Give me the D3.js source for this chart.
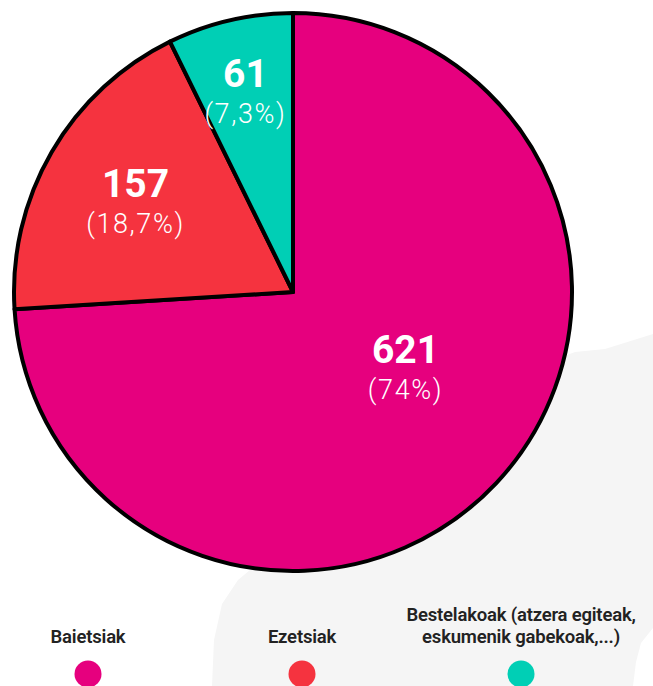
<!DOCTYPE html>
<html>
<head>
<meta charset="utf-8">
<script src="https://cdn.jsdelivr.net/npm/d3@7"></script>
<style>
  html, body { margin: 0; padding: 0; background: #fff; }
  svg { display: block; }
  text { font-family: Roboto, "Noto Sans", sans-serif; }
</style>
</head>
<body>
<div id="chart"></div>
<script>
// data
var LABELS = ["Baietsiak", "Ezetsiak", "Bestelakoak (atzera egiteak,|eskumenik gabekoak,...)"];
var VALUES = [621, 157, 61];
var PERCENTS = ["74%", "18,7%", "7,3%"];
var COLORS = ["#e6007e", "#f5333f", "#00cfb5"];

var width = 653,
    height = 686;

var cx = 293,
    cy = 292,
    radius = 279;

// label placement: radius and angle nudge (degrees) per slice
var labelR = [133, 184, 210],
    labelNudge = [-11, 1, 0];

var svg = d3.select("#chart").append("svg")
    .attr("width", width)
    .attr("height", height);

// light grey background shape
svg.append("path")
    .attr("d", "M212,686 L214,640 L222,604 L238,580 L262,560 L330,500 L450,420 L540,365 L575,352 L605,349 L653,334 L653,628 L641,643 L636,662 L633,686 Z")
    .style("fill", "#f5f5f5");

var pie = d3.pie().sort(null).value(function (d) { return d; });
var arcs = pie(VALUES);

var arc = d3.arc().innerRadius(0).outerRadius(radius);

var g = svg.append("g")
    .attr("transform", "translate(" + cx + "," + cy + ")");

g.selectAll("path.slice")
    .data(arcs)
    .enter().append("path")
    .attr("class", "slice")
    .attr("d", arc)
    .style("fill", function (d, i) { return COLORS[i]; })
    .style("stroke", "#000")
    .style("stroke-width", 4)
    .style("stroke-linejoin", "round");

var lab = g.selectAll("g.lab")
    .data(arcs)
    .enter().append("g")
    .attr("class", "lab")
    .attr("transform", function (d, i) {
        var a = (d.startAngle + d.endAngle) / 2 + labelNudge[i] * Math.PI / 180;
        return "translate(" + (labelR[i] * Math.sin(a)) + "," + (-labelR[i] * Math.cos(a)) + ")";
    });

lab.append("text")
    .attr("text-anchor", "middle")
    .style("fill", "#fff")
    .style("font-size", "39px")
    .style("font-weight", 700)
    .text(function (d) { return d.value; });

lab.append("text")
    .attr("text-anchor", "middle")
    .attr("y", 36)
    .style("fill", "#fff")
    .style("font-size", "27px")
    .style("font-weight", 300)
    .style("letter-spacing", "1.6px")
    .text(function (d, i) { return "(" + PERCENTS[i] + ")"; });

// legend
var legendX = [88, 302, 521];

var legend = svg.selectAll("g.legend")
    .data(LABELS)
    .enter().append("g")
    .attr("class", "legend")
    .attr("transform", function (d, i) { return "translate(" + legendX[i] + ",0)"; });

legend.each(function (d) {
    var lines = d.split("|");
    var gl = d3.select(this);
    lines.forEach(function (l, k) {
        gl.append("text")
            .attr("text-anchor", "middle")
            .attr("y", 643 - (lines.length - 1 - k) * 22)
            .style("fill", "#222")
            .style("font-size", "18.5px")
            .style("font-weight", 600)
            .style("letter-spacing", "-0.2px")
            .text(l);
    });
});

legend.append("circle")
    .attr("cx", 0)
    .attr("cy", 674)
    .attr("r", 13.5)
    .style("fill", function (d, i) { return COLORS[i]; });
</script>
</body>
</html>
